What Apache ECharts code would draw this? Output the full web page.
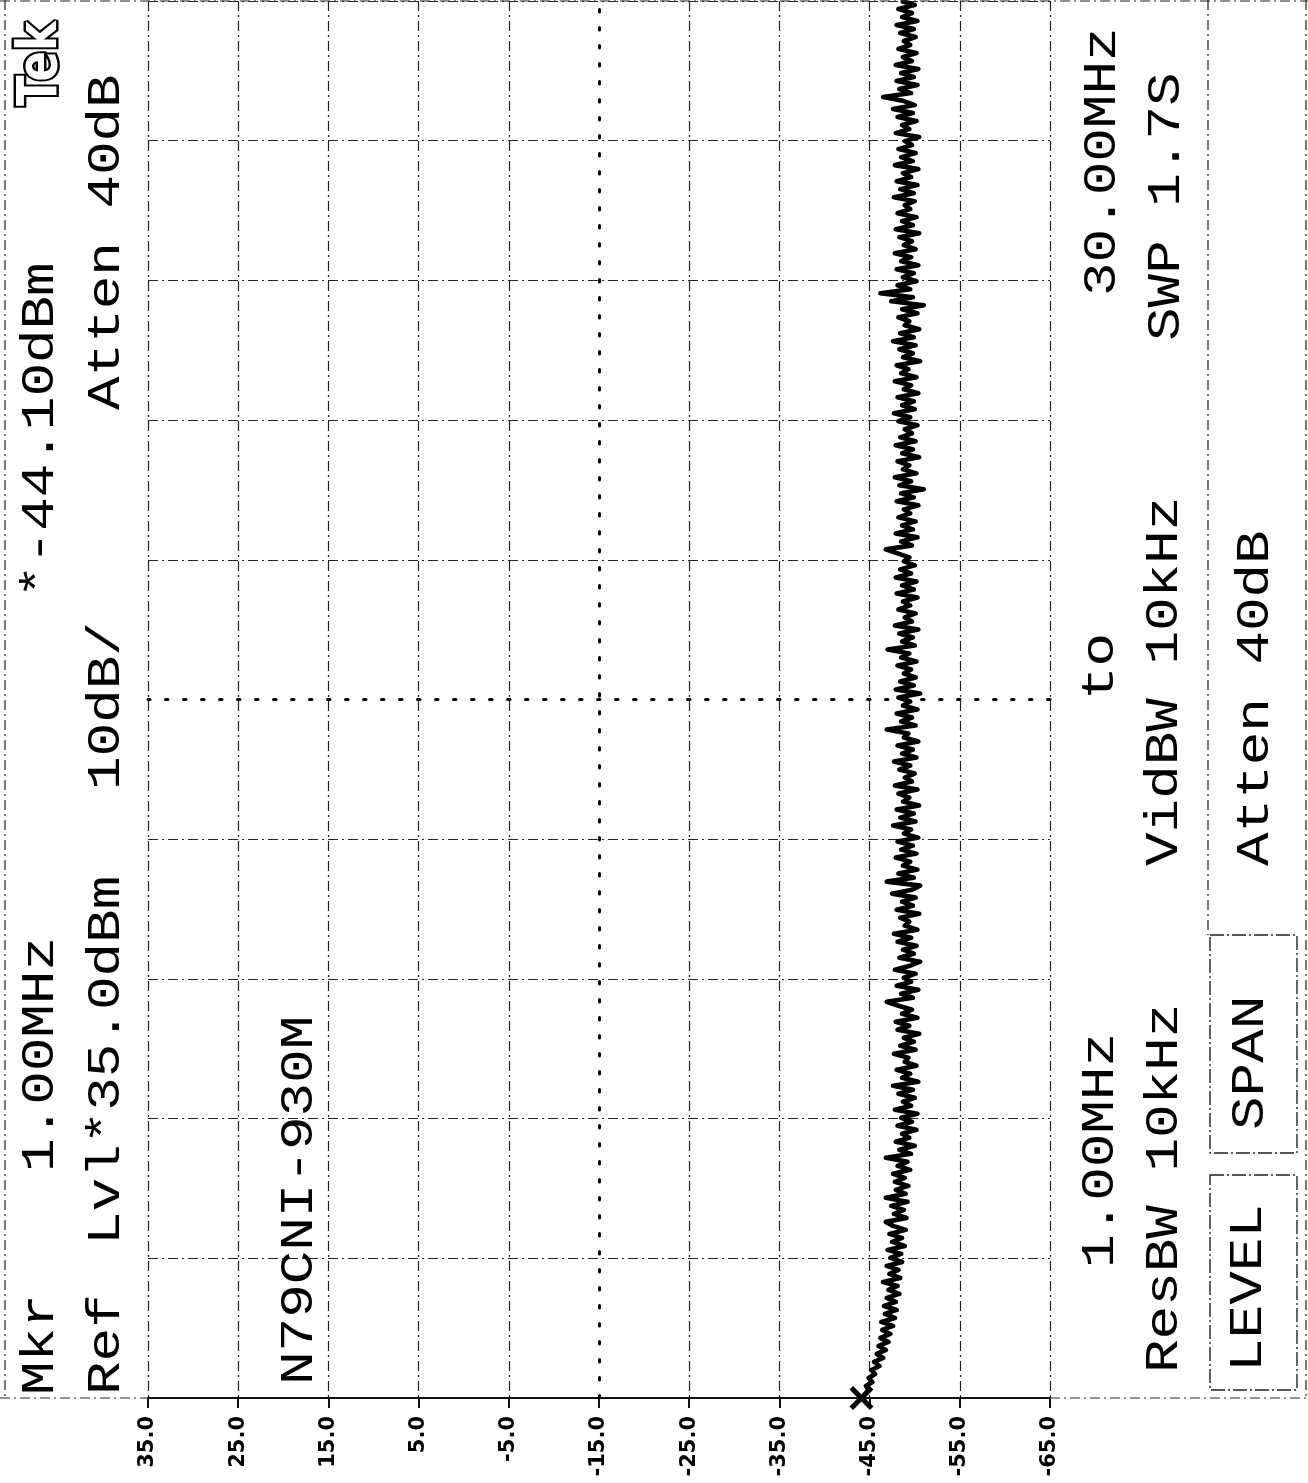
<!DOCTYPE html>
<html><head><meta charset="utf-8">
<script src="https://cdn.jsdelivr.net/npm/echarts@6/dist/echarts.min.js"></script>
<style>html,body{margin:0;padding:0;background:#fff}#c{width:1308px;height:1483px}</style>
</head><body><div id="c"></div>
<script>
// ---- data ----
const startMHz = 1.0;
const stopMHz = 30.0;
const dbMin = -65;
const dbMax = 35;
const dbStep = 10;
const freqDivisions = 10;
const markerMHz = 1.0;
const markerDbm = -44.1;
const centerDb = -15;
const centerMHz = 15.5;
// trace level in dBm, sweep order from 1 MHz to 30 MHz
const levelDbm = [
-44.1,-44.5,-44.9,-44.6,-45.3,-44.9,-45.6,-45.2,-46.1,-45.5,
-46.5,-45.8,-46.8,-46.0,-47.1,-46.2,-47.3,-46.4,-47.6,-46.3,
-47.8,-46.7,-48.0,-46.6,-47.9,-46.9,-48.3,-47.1,-48.1,-46.5,
-48.4,-47.2,-48.2,-46.9,-48.6,-47.3,-48.5,-47.0,-48.9,-47.5,
-48.6,-47.2,-49.0,-47.6,-46.8,-49.1,-47.7,-48.8,-47.4,-49.2,
-46.8,-49.0,-47.9,-49.3,-47.8,-48.9,-47.6,-49.5,-48.1,-49.2,
-46.8,-49.6,-48.3,-50.0,-47.9,-49.4,-48.6,-50.2,-48.1,-49.7,
-48.5,-50.3,-47.8,-49.6,-48.7,-50.0,-48.2,-49.8,-47.6,-50.4,
-48.6,-49.5,-48.0,-50.2,-48.9,-49.3,-47.7,-50.1,-48.4,-49.9,
-48.8,-50.5,-48.1,-49.4,-47.9,-50.3,-48.6,-49.7,-48.2,-46.9,
-49.8,-48.5,-50.4,-48.0,-49.6,-48.8,-50.1,-47.8,-49.5,-50.6,
-48.3,-49.9,-48.7,-50.2,-48.1,-49.6,-47.7,-50.3,-48.9,-49.4,
-48.4,-50.5,-48.0,-49.8,-48.6,-50.1,-47.5,-49.7,-50.6,-46.9,
-49.9,-48.2,-50.3,-48.7,-49.5,-47.9,-50.2,-48.5,-49.8,-48.1,
-50.4,-48.8,-49.6,-47.6,-50.1,-48.4,-49.9,-48.0,-50.5,-48.7,
-49.4,-48.2,-50.3,-47.8,-49.7,-48.9,-50.0,-48.3,-49.5,-47.7,
-50.2,-48.6,-49.8,-48.1,-50.4,-48.8,-49.3,-46.9,-50.1,-48.5,
-49.7,-48.0,-50.3,-48.7,-49.5,-48.2,-50.6,-47.9,-49.9,-48.4,
-50.1,-48.8,-49.6,-48.1,-50.2,-48.5,-49.4,-47.0,-50.0,-48.6,
-49.8,-48.3,-50.4,-47.8,-49.7,-48.9,-50.1,-48.2,-49.5,-48.7,
-50.3,-48.0,-49.9,-48.6,-50.2,-47.9,-49.6,-48.4,-50.0,-48.8,
-49.4,-48.1,-46.8,-49.7,-48.5,-50.3,-47.9,-49.8,-48.6,-50.1,
-48.2,-49.5,-48.8,-50.4,-48.0,-49.9,-48.5,-51.0,-48.3,-49.6,
-47.8,-50.2,-48.7,-49.4,-48.1,-50.5,-48.6,-49.8,-47.9,-50.1,
-48.4,-49.7,-48.9,-50.3,-48.2,-49.5,-47.7,-50.0,-48.6,-49.9,
-48.1,-50.4,-48.8,-49.6,-47.8,-50.2,-48.5,-49.3,-48.0,-50.6,
-48.7,-49.8,-48.3,-50.1,-47.6,-49.9,-48.4,-50.5,-48.9,-49.4,
-48.2,-50.3,-48.6,-51.0,-47.4,-49.8,-46.2,-49.5,-48.1,-50.2,
-48.7,-49.9,-48.0,-50.4,-48.5,-49.6,-47.8,-50.1,-48.8,-49.7,
-48.3,-50.5,-47.9,-49.8,-48.6,-50.2,-48.1,-49.5,-48.9,-50.0,
-47.7,-49.9,-48.4,-50.3,-48.0,-49.6,-48.7,-50.4,-47.8,-49.8,
-48.5,-50.1,-48.2,-49.7,-48.9,-50.5,-47.9,-49.4,-48.6,-50.2,
-48.1,-49.8,-47.6,-50.0,-48.8,-46.5,-49.6,-48.3,-50.3,-48.0,
-49.9,-48.5,-50.4,-47.9,-49.7,-48.7,-50.2,-48.2,-49.5,-48.8,
-50.1,-48.4,-49.9,-48.0,-50.3,-48.6,-49.7,-48.2,-50.0,-48.5
];
// annotation texts
const leftTexts = ['Mkr', '1.00MHz', '*-44.10dBm', 'Ref', 'Lvl*35.0dBm', '10dB/', 'Atten 40dB', 'N79CNI-930M'];
const rightTexts = ['1.00MHz', 'to', '30.00MHz', 'ResBW 10kHz', 'VidBW 10kHz', 'SWP 1.7S', 'LEVEL', 'SPAN', 'Atten 40dB'];
const logoText = 'Tek';

// ---- chart ----
const tracePts = levelDbm.map((v, i) => [v, startMHz + (stopMHz - startMHz) * i / (levelDbm.length - 1)]);
const nLines = (dbMax - dbMin) / dbStep + 1;
const gridColors = Array.from({length: nLines}, (_, i) => i === (nLines - 1) / 2 ? 'rgba(0,0,0,0)' : '#222');
const dash = [10, 4, 2, 4];
const FONT = 'Liberation Mono';
const FSIZE = 47;
const FSX = 1.19;

function vtext(str, x, y, extra) {
  extra = extra || {};
  return {
    type: 'text', x: x, y: y, rotation: Math.PI / 2,
    scaleX: extra.sx || FSX, scaleY: extra.sy || 1, z: 100,
    style: {
      text: str, fontSize: extra.size || FSIZE,
      fontFamily: extra.family || FONT,
      fontWeight: extra.weight || 'normal',
      fill: extra.fill || '#000', stroke: extra.stroke, lineWidth: extra.lw || 0,
      textAlign: 'left', textVerticalAlign: 'middle', align: 'left', verticalAlign: 'middle'
    }
  };
}
function fline(x1, y1, x2, y2, d) {
  return {type: 'line', z: 50, shape: {x1, y1, x2, y2},
    style: {stroke: '#222', lineWidth: 1.2, lineDash: d === undefined ? dash : d}};
}

const graphics = [
  // outer frame
  fline(0, 1, 1308, 1),
  fline(0, 1398, 148, 1398),
  fline(1050, 1398, 1308, 1398),
  fline(5, 0, 5, 1398),
  fline(1306, 0, 1306, 1398),
  fline(1208, 0, 1208, 935),
  {type: 'rect', z: 50, shape: {x: 1210, y: 1175, width: 87, height: 215}, style: {fill: 'none', stroke: '#222', lineWidth: 1.4, lineDash: [14, 3, 2, 3]}},
  {type: 'rect', z: 50, shape: {x: 1210, y: 935, width: 87, height: 218}, style: {fill: 'none', stroke: '#222', lineWidth: 1.4, lineDash: [14, 3, 2, 3]}},
  // left annotations
  vtext(leftTexts[0], 41, 1395),
  vtext(leftTexts[1], 41, 1172),
  vtext(leftTexts[2], 41, 598),
  vtext(leftTexts[3], 107, 1395),
  vtext(leftTexts[4], 107, 1245),
  vtext(leftTexts[5], 107, 790),
  vtext(leftTexts[6], 107, 410),
  vtext(leftTexts[7], 300, 1385),
  vtext(logoText, 41, 106, {size: 56, sx: 0.8, family: 'DejaVu Sans', weight: 'bold', fill: '#fff', stroke: '#000', lw: 5}),
  // right annotations
  vtext(rightTexts[0], 1101, 1268),
  vtext(rightTexts[1], 1101, 700),
  vtext(rightTexts[2], 1103, 296),
  vtext(rightTexts[3], 1165, 1373),
  vtext(rightTexts[4], 1165, 866),
  vtext(rightTexts[5], 1167, 341),
  vtext(rightTexts[6], 1249, 1372),
  vtext(rightTexts[7], 1251, 1130),
  vtext(rightTexts[8], 1256, 866)
];

const chart = echarts.init(document.getElementById('c'), null, {renderer: 'canvas'});
chart.setOption({
  animation: false,
  backgroundColor: '#fff',
  grid: {left: 148, right: 258, top: 1, bottom: 85, containLabel: false},
  xAxis: {
    type: 'value', inverse: true, min: dbMin, max: dbMax, interval: dbStep,
    position: 'bottom',
    axisLine: {show: true, lineStyle: {color: '#111', width: 2}},
    axisTick: {show: true, length: 10, lineStyle: {color: '#111', width: 2}},
    axisLabel: {
      rotate: 90, margin: 18, color: '#000', fontSize: 21, fontWeight: 'bold',
      fontFamily: 'DejaVu Sans',
      formatter: v => v.toFixed(1)
    },
    splitLine: {show: true, lineStyle: {color: gridColors, width: 1.2, type: dash}}
  },
  yAxis: {
    type: 'value', min: startMHz, max: stopMHz, interval: (stopMHz - startMHz) / freqDivisions,
    axisLine: {show: false}, axisTick: {show: false}, axisLabel: {show: false},
    splitLine: {show: true, lineStyle: {color: gridColors, width: 1.2, type: dash}}
  },
  series: [
    {
      type: 'line', data: tracePts, showSymbol: false, symbol: 'none',
      lineStyle: {color: '#000', width: 4.6, join: 'round'}, z: 10,
      markLine: {
        silent: true, symbol: 'none', label: {show: false},
        lineStyle: {color: '#000', width: 3, type: [2.5, 15.5], cap: 'round'},
        data: [{xAxis: centerDb}, {yAxis: centerMHz}]
      }
    },
    {
      type: 'scatter', data: [[markerDbm, markerMHz]], z: 11,
      symbol: 'path://M3,0 L10,7 L17,0 L20,3 L13,10 L20,17 L17,20 L10,13 L3,20 L0,17 L7,10 L0,3 Z',
      symbolSize: 24, itemStyle: {color: '#000', opacity: 1}
    }
  ],
  graphic: graphics
});
</script></body></html>
